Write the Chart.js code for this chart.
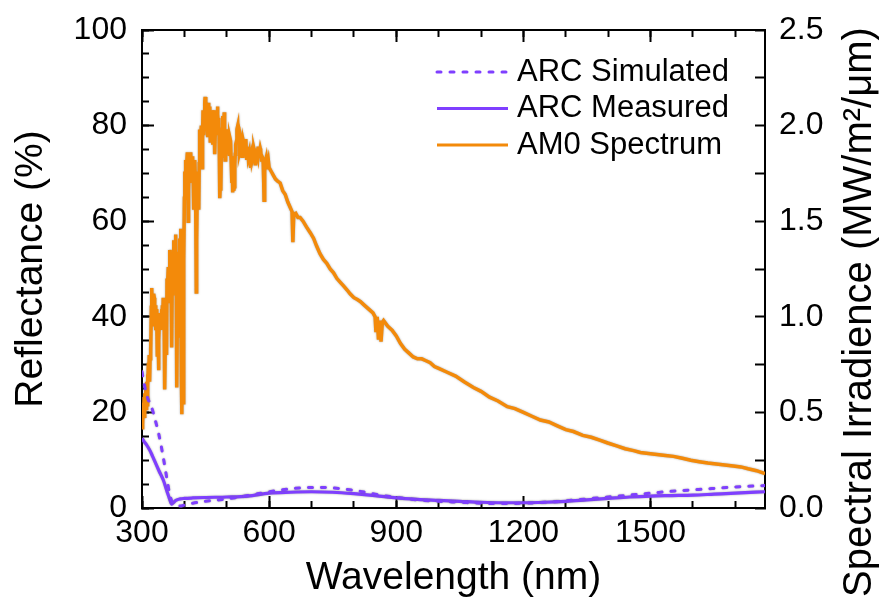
<!DOCTYPE html>
<html><head><meta charset="utf-8">
<script src="https://cdn.jsdelivr.net/npm/chart.js@4.4.1/dist/chart.umd.min.js"></script>
<style>html,body{margin:0;padding:0;background:#fff;}</style>
</head><body>
<canvas id="c" width="890" height="602"></canvas>
<script>
// ---------- data ----------
const wavelengthTicks = [300, 600, 900, 1200, 1500];
const reflectanceTicks = [0, 20, 40, 60, 80, 100];
const irradianceTicks = [0.0, 0.5, 1.0, 1.5, 2.0, 2.5];

const seriesLabels = ['ARC Simulated', 'ARC Measured', 'AM0 Spectrum'];
const xTitle = 'Wavelength (nm)';
const yTitle = 'Reflectance (%)';
const y2Title = 'Spectral Irradience (MW/m\u00B2/\u03BCm)';

const am0Wavelength = [
  300,301,302,303,304,305,306,307,308,309,
  310,311,312,313,314,315,316,317,318,319,
  320,321,322,323,324,325,326,327,328,329,
  330,331,332,333,334,335,336,337,338,339,
  340,341,342,343,344,345,346,347,348,349,
  350,351,352,353,354,355,356,357,358,359,
  360,361,362,363,364,365,366,367,368,369,
  370,371,372,373,374,375,376,377,378,379,
  380,381,382,383,384,385,386,387,388,389,
  390,391,392,393,394,395,396,397,398,399,
  400,401,402,403,404,405,406,407,408,409,
  410,411,412,413,414,415,416,417,418,419,
  420,421,422,423,424,425,426,427,428,429,
  430,431,432,433,434,435,436,437,438,439,
  440,441,442,443,444,445,446,447,448,449,
  450,451,452,453,454,455,456,457,458,459,
  460,461,462,463,464,465,466,467,468,469,
  470,471,472,473,474,475,476,477,478,479,
  480,481,482,483,484,485,486,487,488,489,
  490,491,492,493,494,495,496,497,498,499,
  500,502,503,504,506,507,509,510,512,513,
  514,515,516,517,518,519,520,521,523,524,
  526,527,529,530,532,533,535,536,538,539,
  541,542,544,545,547,548,550,551,553,555,
  556,557,559,560,562,564,565,567,568,570,
  571,573,574,576,577,579,580,582,583,585,
  586,587,588,589,590,592,593,595,596,598,
  600,605,610,615,620,626,632,638,644,650,
  654,656,658,663,668,673,680,688,697,705,
  712,720,728,736,744,752,760,768,776,784,
  791,800,808,815,825,835,845,850,852,855,
  858,861,864,867,870,880,890,900,910,920,
  930,940,950,960,970,980,990,1000,1020,1040,
  1060,1082,1100,1120,1140,1162,1180,1200,1220,1240,
  1260,1280,1300,1318,1340,1360,1380,1399,1420,1440,
  1460,1476,1495,1515,1535,1554,1575,1595,1615,1635,
  1655,1675,1695,1713,1730,1750,1770
];
const am0Irradiance = [
  0.42,0.50,0.44,0.55,0.50,0.58,0.47,0.60,0.56,0.63,
  0.52,0.66,0.54,0.70,0.64,0.76,0.68,0.80,0.66,0.78,
  0.84,0.80,1.05,1.15,1.02,0.95,1.08,0.98,1.12,1.10,
  1.00,1.06,0.98,0.93,1.04,0.96,0.80,1.02,0.90,0.72,
  0.88,0.98,1.02,0.94,1.01,0.96,1.04,0.94,1.06,0.98,
  1.10,1.02,1.04,0.90,0.62,0.88,1.10,1.02,0.80,1.20,
  1.10,1.18,1.26,1.14,1.08,1.28,1.35,1.24,1.20,1.10,
  0.84,1.12,1.30,1.22,1.34,1.40,1.30,1.24,1.36,1.28,
  1.43,1.10,0.63,0.90,1.30,1.24,1.18,1.34,1.30,1.41,
  1.36,1.46,1.20,0.66,0.49,0.92,0.80,0.55,0.90,1.30,
  1.62,1.76,1.70,1.82,1.74,1.68,1.80,1.86,1.72,1.50,
  1.66,1.80,1.70,1.74,1.84,1.86,1.76,1.80,1.72,1.84,
  1.80,1.70,1.56,1.72,1.78,1.82,1.70,1.50,1.13,1.40,
  1.60,1.76,1.72,1.62,1.56,1.80,1.98,1.90,1.86,1.95,
  2.00,1.88,1.78,1.96,2.08,2.00,1.95,2.06,2.12,2.15,
  2.08,2.04,2.12,2.10,1.98,1.94,2.06,2.12,2.08,2.02,
  2.10,1.92,1.98,2.06,2.02,2.00,2.08,1.90,2.02,2.06,
  2.08,1.96,1.85,1.98,2.02,2.06,1.95,2.04,2.10,2.06,
  2.00,2.04,1.95,1.80,1.62,1.70,1.66,1.84,1.90,1.98,
  2.05,2.00,1.95,2.02,2.07,1.96,1.82,1.92,1.98,1.94,
  1.90,1.98,1.96,1.88,1.85,1.94,1.92,1.84,1.70,1.78,
  1.65,1.72,1.75,1.66,1.68,1.80,1.85,1.90,1.92,1.98,
  2.00,1.94,1.95,1.86,1.88,1.94,1.92,1.84,1.86,1.92,
  1.90,1.84,1.88,1.93,1.82,1.88,1.89,1.84,1.86,1.80,
  1.78,1.85,1.87,1.82,1.84,1.88,1.87,1.80,1.82,1.88,
  1.86,1.84,1.89,1.83,1.85,1.88,1.87,1.82,1.84,1.83,
  1.80,1.72,1.61,1.70,1.78,1.82,1.83,1.78,1.80,1.82,
  1.78,1.76,1.74,1.72,1.71,1.70,1.66,1.64,1.60,1.57,
  1.55,1.39,1.53,1.54,1.52,1.52,1.50,1.47,1.44,1.41,
  1.37,1.33,1.30,1.28,1.25,1.23,1.20,1.18,1.16,1.14,
  1.12,1.10,1.09,1.08,1.06,1.04,1.02,1.00,0.92,1.00,
  0.88,0.98,0.87,0.97,0.98,0.95,0.93,0.90,0.86,0.83,
  0.81,0.79,0.78,0.78,0.77,0.76,0.74,0.73,0.71,0.69,
  0.66,0.63,0.61,0.58,0.56,0.53,0.52,0.50,0.48,0.46,
  0.45,0.43,0.41,0.40,0.38,0.37,0.355,0.34,0.325,0.31,
  0.30,0.29,0.285,0.28,0.275,0.27,0.26,0.25,0.242,0.235,
  0.23,0.225,0.22,0.215,0.205,0.195,0.18
];

const arcWavelength = [
  300,305,310,315,320,325,330,340,350,360,
  365,370,375,380,390,400,420,450,500,550,
  600,650,700,750,800,850,900,950,1000,1050,
  1100,1150,1200,1250,1300,1350,1400,1450,1500,1550,
  1600,1650,1700,1770
];
const arcSimulated = [
  28.5,26.0,24.0,22.6,21.8,20.4,18.8,15.3,10.7,5.5,
  3.0,1.5,0.9,0.6,0.4,0.6,1.0,1.4,1.9,2.6,
  3.4,4.0,4.3,4.2,3.7,2.9,2.2,1.7,1.4,1.2,
  1.0,0.95,1.0,1.2,1.5,1.9,2.3,2.7,3.1,3.5,
  3.8,4.1,4.4,4.7
];
const arcMeasured = [
  14.6,13.9,13.3,12.6,11.8,10.8,9.8,7.8,5.9,3.2,
  1.9,0.8,1.2,1.6,1.9,2.0,2.1,2.2,2.3,2.5,
  3.1,3.3,3.4,3.3,3.0,2.6,2.1,1.8,1.6,1.4,
  1.2,1.1,1.1,1.2,1.4,1.7,2.0,2.3,2.5,2.6,
  2.7,2.9,3.1,3.4
];

// ---------- styles ----------
const FONT = "'Liberation Sans', Arial, Helvetica, sans-serif";
const PURPLE = '#7f3fff';
const ORANGE = '#f38a0a';
const X_MIN = 300, X_MAX = 1770;

const pts = (xs, ys) => xs.map((x, i) => ({x: x, y: ys[i]}));

function tickOnly(position, min, max, step, len) {
  return {
    type: 'linear', position, min, max, weight: 0,
    ticks: {display: false, stepSize: step, includeBounds: false},
    grid: {drawOnChartArea: false, tickLength: -len, tickWidth: 2, tickColor: '#000'},
    border: {display: false},
    afterFit: s => { if (position === 'left' || position === 'right') s.width = 0; else s.height = 0; }
  };
}
const majorX = s => { s.ticks = wavelengthTicks.map(v => ({value: v})); };

const overlay = {
  id: 'overlay',
  beforeDatasetDraw(chart) {
    const c = chart.ctx; c.save();
    c.shadowColor = 'rgba(110,110,110,0.6)'; c.shadowBlur = 2;
  },
  afterDatasetDraw(chart) { chart.ctx.restore(); },
  afterDraw(chart) {
    const {ctx, chartArea: a} = chart;
    ctx.save();
    // legend
    ctx.font = '31px ' + FONT;
    ctx.textBaseline = 'middle';
    ctx.textAlign = 'left';
    ctx.fillStyle = '#000';
    chart.data.datasets.forEach((d, i) => {
      const yy = a.top + 42 + i * 36.5;
      ctx.save();
      ctx.beginPath();
      ctx.strokeStyle = d.borderColor;
      ctx.lineWidth = 3;
      ctx.setLineDash(d.borderDash || []);
      ctx.lineCap = d.borderDash ? 'round' : 'butt';
      ctx.moveTo(a.left + 295, yy);
      ctx.lineTo(a.left + 366, yy);
      ctx.stroke();
      ctx.restore();
      ctx.fillText(d.label, a.left + 375, yy);
    });
    // right axis title (reads bottom to top)
    const s = chart.scales.y2;
    ctx.translate(s.right - 30, a.top + 282);
    ctx.rotate(-Math.PI / 2);
    ctx.textAlign = 'center';
    ctx.font = '40px ' + FONT;
    ctx.fillText(y2Title, 0, 0);
    ctx.restore();
  }
};

new Chart(document.getElementById('c'), {
  type: 'line',
  data: {
    datasets: [
      {label: seriesLabels[0], data: pts(arcWavelength, arcSimulated), xAxisID: 'x', yAxisID: 'y',
       borderColor: PURPLE, borderWidth: 3, borderDash: [4, 9], borderCapStyle: 'round',
       pointRadius: 0, cubicInterpolationMode: 'monotone', fill: false},
      {label: seriesLabels[1], data: pts(arcWavelength, arcMeasured), xAxisID: 'x', yAxisID: 'y',
       borderColor: PURPLE, borderWidth: 3.2, pointRadius: 0, cubicInterpolationMode: 'monotone', fill: false},
      {label: seriesLabels[2], data: pts(am0Wavelength, am0Irradiance), xAxisID: 'x', yAxisID: 'y2',
       borderColor: ORANGE, borderWidth: 3.5, pointRadius: 0, tension: 0, fill: false}
    ]
  },
  options: {
    responsive: false,
    animation: false,
    layout: {padding: 0},
    plugins: {legend: {display: false}, tooltip: {enabled: false}},
    scales: {
      x: {
        type: 'linear', position: 'bottom', min: X_MIN, max: X_MAX, weight: 1,
        afterBuildTicks: majorX,
        ticks: {autoSkip: false, maxRotation: 0, minRotation: 0,
                color: '#000', font: {family: FONT, size: 32}, padding: 18,
                callback: v => String(v)},
        grid: {drawOnChartArea: false, tickLength: -12, tickWidth: 2, tickColor: '#000'},
        border: {display: true, color: '#000', width: 2},
        title: {display: true, text: xTitle, color: '#000', font: {family: FONT, size: 39}, padding: {top: 0, bottom: 0}},
        afterFit: s => { s.height = 94; }
      },
      xMinor: tickOnly('bottom', X_MIN, X_MAX, 100, 7),
      xTop: Object.assign(tickOnly('top', X_MIN, X_MAX, 300, 12), {
        weight: 1, afterBuildTicks: majorX,
        border: {display: true, color: '#000', width: 2},
        afterFit: s => { s.height = 30; }
      }),
      xTopMinor: tickOnly('top', X_MIN, X_MAX, 100, 7),
      y: {
        type: 'linear', position: 'left', min: 0, max: 100, weight: 1,
        ticks: {stepSize: 20, autoSkip: false, color: '#000', font: {family: FONT, size: 32}, padding: 27,
                callback: v => reflectanceTicks.includes(v) ? String(v) : ''},
        grid: {drawOnChartArea: false, tickLength: -12, tickWidth: 2, tickColor: '#000'},
        border: {display: true, color: '#000', width: 2},
        title: {display: true, text: yTitle, color: '#000', font: {family: FONT, size: 39}, padding: {top: 8, bottom: 0}},
        afterFit: s => { s.width = 142; s.paddingTop = 0; s.paddingBottom = 0; }
      },
      yMinor: tickOnly('left', 0, 100, 5, 7),
      y2: {
        type: 'linear', position: 'right', min: 0, max: 2.5, weight: 1,
        ticks: {stepSize: 0.25, autoSkip: false, color: '#000', font: {family: FONT, size: 32}, padding: 24,
                callback: v => {
                  const hit = irradianceTicks.find(t => Math.abs(t - v) < 1e-6);
                  return hit === undefined ? '' : hit.toFixed(1);
                }},
        grid: {drawOnChartArea: false, tickLength: -10, tickWidth: 2, tickColor: '#000'},
        border: {display: true, color: '#000', width: 2},
        title: {display: false},
        afterFit: s => { s.width = 125; s.paddingTop = 0; s.paddingBottom = 0; }
      }
    }
  },
  plugins: [overlay]
});
</script>
</body></html>
